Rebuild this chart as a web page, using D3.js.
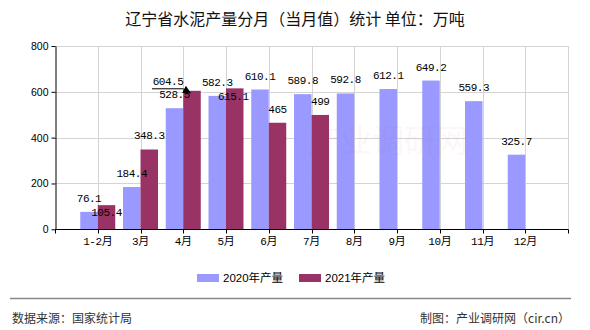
<!DOCTYPE html>
<html>
<head>
<meta charset="utf-8">
<script src="https://cdn.jsdelivr.net/npm/d3@7/dist/d3.min.js"></script>
<style>
  html, body { margin: 0; padding: 0; background: #fff; }
  svg { display: block; }
</style>
</head>
<body>
<svg id="chart" width="590" height="330"></svg>
<script>
// Monthly cement output of Liaoning province (10k tonnes)
const categories = ["1-2月", "3月", "4月", "5月", "6月", "7月", "8月", "9月", "10月", "11月", "12月"];
const output2020 = [76.1, 184.4, 528.5, 582.3, 610.1, 589.8, 592.8, 612.1, 649.2, 559.3, 325.7];
const output2021 = [105.4, 348.3, 604.5, 615.1, 465, 499];
const yTicks = [0, 200, 400, 600, 800];
const seriesNames = ["2020年产量", "2021年产量"];
const seriesColors = ["#9999ff", "#993366"];

const svg = d3.select("#chart");
const plotLeft = 55, plotRight = 568, plotTop = 46, plotBottom = 229.3;
const barW = 17.5;

const x = d3.scalePoint().domain(categories).range([plotLeft, plotRight]).padding(1);
const y = d3.scaleLinear().domain([0, 800]).range([plotBottom, plotTop]);

const monoFont = "'Liberation Mono', 'Noto Sans CJK SC', monospace";
const sansFont = "'Liberation Sans', 'Noto Sans CJK SC', sans-serif";
const cjkFont = "'Noto Sans CJK SC', sans-serif";

// Title
svg.append("text")
  .attr("x", 295).attr("y", 18)
  .attr("text-anchor", "middle").attr("dominant-baseline", "central")
  .attr("font-family", cjkFont).attr("font-size", 16).attr("fill", "#111")
  .text("辽宁省水泥产量分月（当月值）统计 单位：万吨");

// Gridlines
const grid = svg.append("g").attr("stroke", "#d4d4d4").attr("stroke-width", 1);
grid.selectAll("line.h").data(yTicks.filter(d => d > 0)).join("line")
  .attr("x1", plotLeft).attr("x2", plotRight)
  .attr("y1", d => Math.round(y(d)) + 0.5).attr("y2", d => Math.round(y(d)) + 0.5);
grid.selectAll("line.v").data(categories.map(c => x(c)).concat([plotRight])).join("line")
  .attr("x1", d => Math.round(d) + 0.5).attr("x2", d => Math.round(d) + 0.5)
  .attr("y1", plotTop).attr("y2", plotBottom);

// Bars
const bars = svg.append("g");
bars.selectAll("rect.s0").data(output2020).join("rect")
  .attr("x", (d, i) => x(categories[i]) - barW)
  .attr("y", d => y(d)).attr("width", barW).attr("height", d => plotBottom - y(d))
  .attr("fill", seriesColors[0]);
bars.selectAll("rect.s1").data(output2021).join("rect")
  .attr("x", (d, i) => x(categories[i]))
  .attr("y", d => y(d)).attr("width", barW).attr("height", d => plotBottom - y(d))
  .attr("fill", seriesColors[1]);

// Faint watermark over the plot
svg.append("text")
  .attr("x", 388).attr("y", 152).attr("text-anchor", "middle")
  .attr("font-family", cjkFont).attr("font-size", 32)
  .attr("fill", "#dd4455").attr("opacity", 0.04)
  .text("产业调研网");

// Axes
const yAxis = svg.append("g").attr("transform", `translate(${plotLeft + 0.5},0)`)
  .call(d3.axisLeft(y).tickValues(yTicks).tickSize(4).tickSizeOuter(0).tickFormat(d3.format("d")));
yAxis.select(".domain").attr("stroke", "#000");
yAxis.selectAll(".tick line").attr("stroke", "#000");
yAxis.selectAll(".tick text").attr("font-family", sansFont).attr("font-size", 10.5)
  .attr("fill", "#000").attr("x", -7);

const xAxis = svg.append("g").attr("transform", `translate(0,${Math.round(plotBottom) + 0.5})`);
xAxis.append("line").attr("x1", plotLeft).attr("x2", plotRight + 0.5).attr("stroke", "#000");
xAxis.selectAll("line.tk").data(categories.map(c => x(c)).concat([plotLeft, plotRight])).join("line")
  .attr("x1", d => Math.round(d) + 0.5).attr("x2", d => Math.round(d) + 0.5)
  .attr("y1", 0).attr("y2", 4).attr("stroke", "#000");
xAxis.selectAll("text").data(categories).join("text")
  .attr("x", d => x(d)).attr("y", 12.5)
  .attr("text-anchor", "middle").attr("dominant-baseline", "central")
  .attr("font-family", monoFont).attr("font-size", 11).attr("letter-spacing", -0.4)
  .attr("fill", "#000").text(d => d);

// Value labels (default: centred 13px above the bar top)
const labelShift = { "2021:1-2月": 21, "2021:5月": 22 };
const labels = svg.append("g")
  .attr("font-family", monoFont).attr("font-size", 11).attr("letter-spacing", -0.5)
  .attr("fill", "#000").attr("text-anchor", "middle").attr("dominant-baseline", "central");

output2020.forEach((v, i) => {
  const c = categories[i];
  labels.append("text")
    .attr("x", x(c) - barW / 2)
    .attr("y", y(v) - 13 + (labelShift["2020:" + c] || 0))
    .text(v);
});

// Arrow head for the callout label
svg.append("defs").append("marker")
  .attr("id", "arrow").attr("viewBox", "0 0 10 10")
  .attr("refX", 9).attr("refY", 5)
  .attr("markerWidth", 8).attr("markerHeight", 8).attr("orient", "auto")
  .append("path").attr("d", "M0,0 L10,5 L0,10 Z").attr("fill", "#000");

output2021.forEach((v, i) => {
  const c = categories[i];
  const bx = x(c) + barW / 2;
  if (c === "4月") {
    // callout: label pulled to the left with a leader line to the bar top
    const lx = bx - 24, ly = y(v) - 9;
    labels.append("text").attr("x", lx).attr("y", ly).text(v);
    svg.append("path")
      .attr("d", `M${lx - 16},${ly + 7} L${lx + 15},${ly + 7} L${x(c) + 7},${y(v) + 2}`)
      .attr("fill", "none").attr("stroke", "#000").attr("stroke-width", 1)
      .attr("marker-end", "url(#arrow)");
    return;
  }
  labels.append("text")
    .attr("x", bx - (c === "5月" ? 1.5 : 0))
    .attr("y", y(v) - 13 + (labelShift["2021:" + c] || 0))
    .text(v);
});

// Legend
const legend = svg.append("g");
const legendX = [197, 299];
seriesNames.forEach((name, i) => {
  legend.append("rect").attr("x", legendX[i]).attr("y", 274)
    .attr("width", 22).attr("height", 8).attr("fill", seriesColors[i]);
  legend.append("text").attr("x", legendX[i] + 26).attr("y", 278)
    .attr("dominant-baseline", "central")
    .attr("font-family", sansFont).attr("font-size", 11.5).attr("fill", "#000")
    .text(name);
});

// Footer
svg.append("line").attr("x1", 10).attr("x2", 571).attr("y1", 298.5).attr("y2", 298.5)
  .attr("stroke", "#888").attr("stroke-width", 1.5);
svg.append("text").attr("x", 12).attr("y", 317).attr("dominant-baseline", "central")
  .attr("font-family", cjkFont).attr("font-size", 12).attr("fill", "#333")
  .text("数据来源：国家统计局");
svg.append("text").attr("x", 570).attr("y", 317).attr("dominant-baseline", "central")
  .attr("text-anchor", "end")
  .attr("font-family", cjkFont).attr("font-size", 12).attr("fill", "#333")
  .text("制图：产业调研网（cir.cn）");
</script>
</body>
</html>
